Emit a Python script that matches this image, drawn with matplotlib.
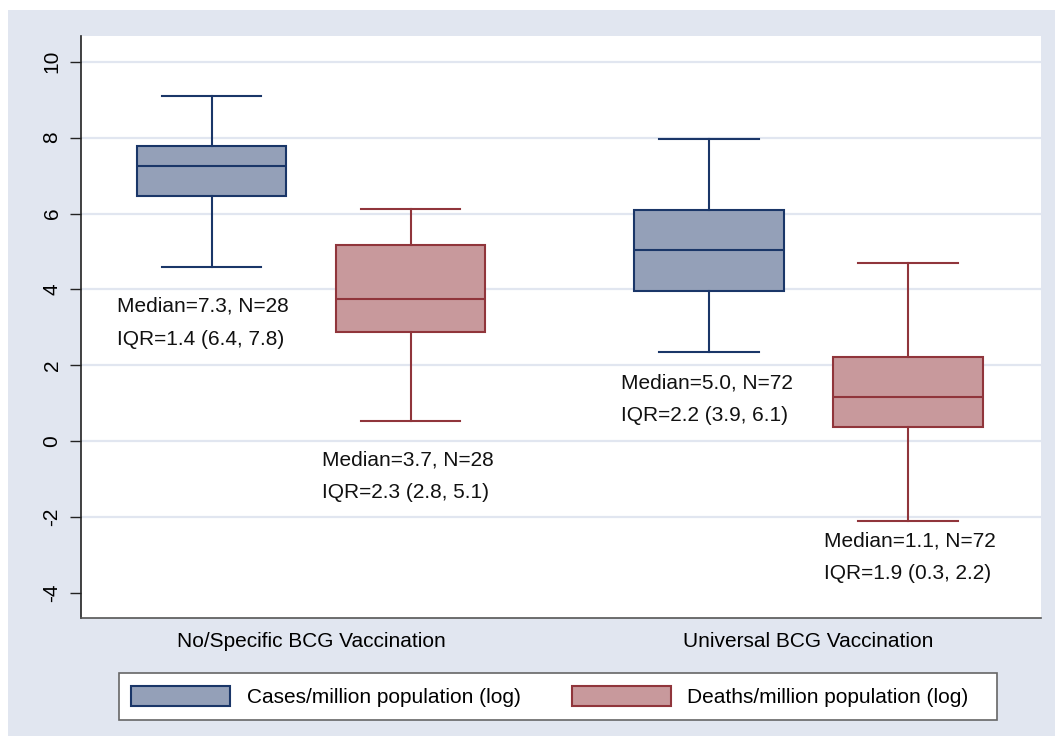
import matplotlib
matplotlib.use("Agg")
import matplotlib.pyplot as plt
from matplotlib.patches import Rectangle, Patch

plt.rcParams['font.family'] = ['Liberation Sans', 'DejaVu Sans']

# ---- data ----
groups = ["No/Specific BCG Vaccination", "Universal BCG Vaccination"]
series = ["Cases/million population (log)", "Deaths/million population (log)"]
# order: group1-cases, group1-deaths, group2-cases, group2-deaths
whisker_low = [4.60, 0.53, 2.35, -2.10]
q1 = [6.45, 2.89, 3.96, 0.37]
median = [7.26, 3.76, 5.03, 1.16]
q3 = [7.79, 5.16, 6.09, 2.21]
whisker_high = [9.10, 6.13, 7.96, 4.70]
label_median = ["7.3", "3.7", "5.0", "1.1"]
label_n = [28, 28, 72, 72]
label_iqr = ["1.4", "2.3", "2.2", "1.9"]
label_q = [("6.4", "7.8"), ("2.8", "5.1"), ("3.9", "6.1"), ("0.3", "2.2")]
yticks = [-4, -2, 0, 2, 4, 6, 8, 10]

# ---- style ----
positions = [1.0, 2.0, 3.5, 4.5]
label_dx = [-0.475, -0.445, -0.44, -0.42]
label_offset = [1.04, 1.02, 0.81, 0.52]
fills = ["#94a0b8", "#c8999c"]
edges = ["#1a3668", "#90353b"]
bg = "#e1e6f0"
FS = 15

fig = plt.figure(figsize=(10.55, 7.36), dpi=100, facecolor="white")
W, H = 1055, 736
fig.patches.append(Rectangle((8 / W, 0), 1 - 8 / W, 1 - 10 / H,
                             transform=fig.transFigure, facecolor=bg,
                             edgecolor="none", zorder=-10))
# legend frame
fig.patches.append(Rectangle((119 / W, (H - 720) / H), (997 - 119) / W, 47 / H,
                             transform=fig.transFigure, facecolor="white",
                             edgecolor="#666666", linewidth=1.2, zorder=-5))

ax = fig.add_axes([81 / W, (H - 618) / H, (1041 - 81) / W, (618 - 36) / H])
ax.set_facecolor("white")

stats = []
for i in range(4):
    stats.append(dict(med=median[i], q1=q1[i], q3=q3[i],
                      whislo=whisker_low[i], whishi=whisker_high[i], fliers=[]))

LW = 1.5
for i in range(4):
    s = i % 2
    ax.bxp([stats[i]], positions=[positions[i]], widths=0.75, capwidths=0.5,
           patch_artist=True, showfliers=False,
           boxprops=dict(facecolor=fills[s], edgecolor=edges[s], linewidth=LW),
           medianprops=dict(color=edges[s], linewidth=LW),
           whiskerprops=dict(color=edges[s], linewidth=LW),
           capprops=dict(color=edges[s], linewidth=LW), manage_ticks=False)
    y0 = whisker_low[i] - label_offset[i]
    x0 = positions[i] + label_dx[i]
    ax.text(x0, y0, f"Median={label_median[i]}, N={label_n[i]}",
            ha="left", va="center", fontsize=FS, color="#111111")
    ax.text(x0, y0 - 0.87,
            f"IQR={label_iqr[i]} ({label_q[i][0]}, {label_q[i][1]})",
            ha="left", va="center", fontsize=FS, color="#111111")

for yv in yticks[1:]:
    ax.axhline(yv, color=bg, linewidth=1.6, zorder=0)

ax.set_xlim(0.344, 5.168)
ax.set_ylim(-4.66, 10.68)
ax.set_yticks(yticks)
ax.set_yticklabels([str(v) for v in yticks], rotation=90, va="center",
                   fontsize=FS)
ax.tick_params(axis="y", length=8, width=1, pad=6, color="#222222")
ax.set_xticks([(positions[0] + positions[1]) / 2, (positions[2] + positions[3]) / 2])
ax.set_xticklabels(groups, fontsize=FS)
ax.tick_params(axis="x", length=0, pad=10)

for sp in ["top", "right"]:
    ax.spines[sp].set_visible(False)
ax.spines["left"].set_color("#222222")
ax.spines["bottom"].set_color("#555555")
ax.spines["left"].set_linewidth(1.2)
ax.spines["bottom"].set_linewidth(1.2)

handles = [Patch(facecolor=fills[k], edgecolor=edges[k], linewidth=LW) for k in range(2)]
leg = fig.legend(handles, series, ncol=2,
                 bbox_to_anchor=(550 / W, (H - 696.5) / H),
                 loc="center", fontsize=FS, handlelength=4.75, handleheight=1.1,
                 handletextpad=0.8, columnspacing=2.45, borderaxespad=0,
                 borderpad=0.55, frameon=False)

fig.savefig("out.png", dpi=100, facecolor="white")
